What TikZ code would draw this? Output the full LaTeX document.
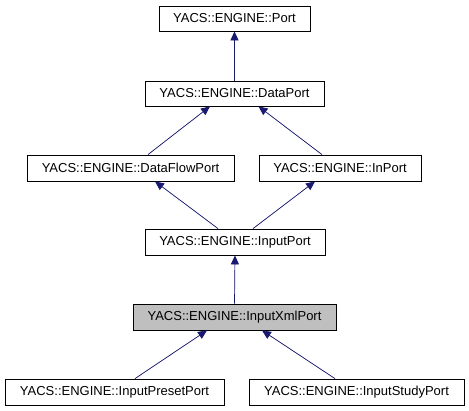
\documentclass[tikz,border=0pt]{standalone}
\usepackage{fontspec}
\setmainfont{Liberation Sans}
\usetikzlibrary{arrows.meta}
\definecolor{edgeblue}{HTML}{191970}
\definecolor{hilite}{HTML}{BFBFBF}
\tikzset{
  cls/.style={draw=black, line width=0.8pt, rectangle, inner sep=0pt, font=\fontsize{13}{15}\selectfont, text=black},
  arr/.style={draw=edgeblue, line width=0.7pt, -{Triangle[length=9pt,width=8pt]}, fill=edgeblue},
}
\begin{document}
\begin{tikzpicture}[x=1pt,y=-1pt]
\useasboundingbox (0,0) rectangle (469,411);
\fill[white] (0,0) rectangle (469,411);
\node[cls, minimum width=151pt, minimum height=25pt] (port) at (234.5,18.5) {YACS::ENGINE::Port};
\node[cls, minimum width=179pt, minimum height=25pt] (dataport) at (234.5,93.5) {YACS::ENGINE::DataPort};
\node[cls, minimum width=207pt, minimum height=26pt] (dflow) at (130.5,168) {YACS::ENGINE::DataFlowPort};
\node[cls, minimum width=162pt, minimum height=26pt] (inport) at (340,168) {YACS::ENGINE::InPort};
\node[cls, minimum width=180pt, minimum height=26pt] (inputport) at (235,242) {YACS::ENGINE::InputPort};
\node[cls, fill=hilite, minimum width=203pt, minimum height=26pt] (xml) at (234.5,317) {YACS::ENGINE::InputXmlPort};
\node[cls, minimum width=219pt, minimum height=26pt] (preset) at (114.5,392) {YACS::ENGINE::InputPresetPort};
\node[cls, minimum width=215pt, minimum height=26pt] (study) at (356.5,392) {YACS::ENGINE::InputStudyPort};

\draw[arr] (dataport.north) -- (port.south);
\draw[arr] ([xshift=17.5pt]dflow.north) -- ([xshift=-24.5pt]dataport.south);
\draw[arr] ([xshift=-18pt]inport.north) -- ([xshift=24pt]dataport.south);
\draw[arr] ([xshift=-17pt]inputport.north) -- ([xshift=24.5pt]dflow.south);
\draw[arr] ([xshift=18pt]inputport.north) -- ([xshift=-25pt]inport.south);
\draw[arr] (xml.north) -- (inputport.south);
\draw[arr] ([xshift=20.5pt]preset.north) -- ([xshift=-27.5pt]xml.south);
\draw[arr] ([xshift=-21.5pt]study.north) -- ([xshift=27.5pt]xml.south);
\end{tikzpicture}
\end{document}
